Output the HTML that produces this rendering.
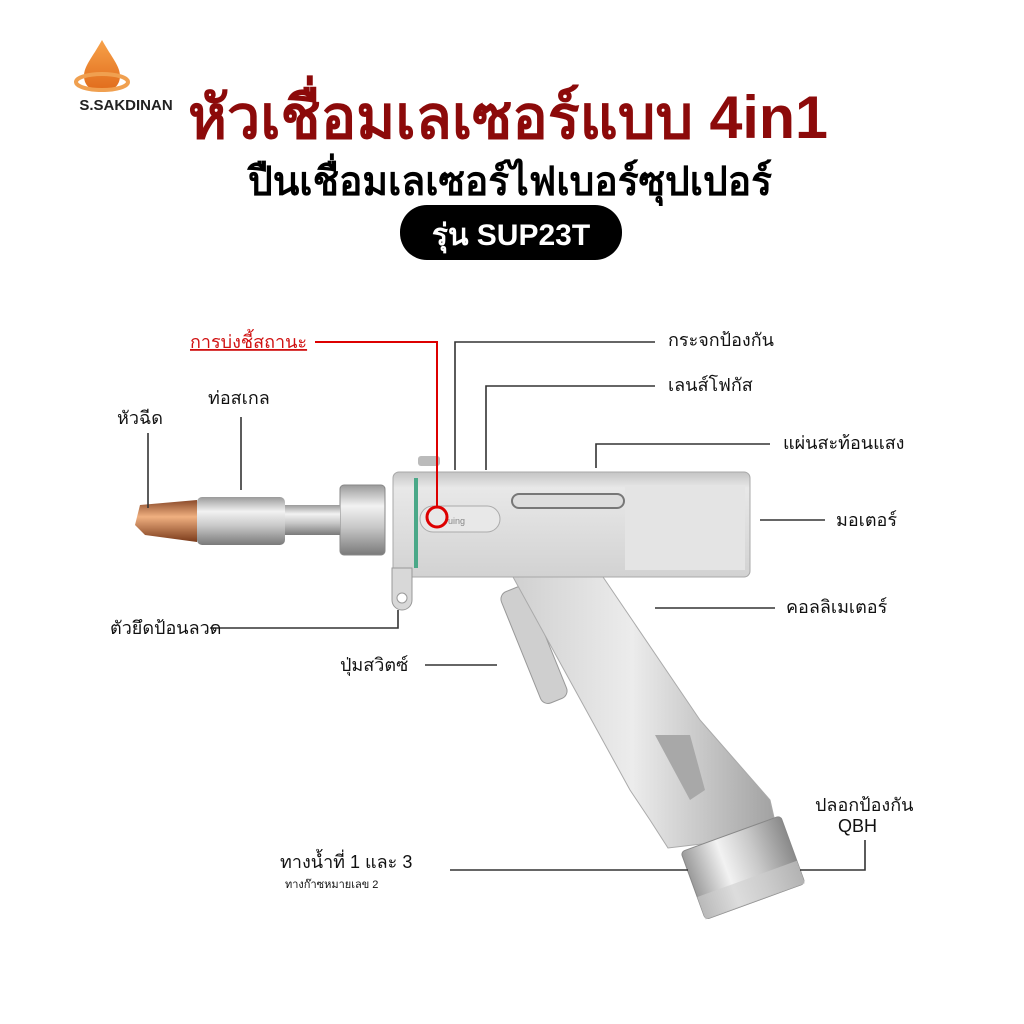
<!DOCTYPE html>
<html><head><meta charset="utf-8"><style>
body{margin:0;background:#fff}
svg{display:block}
text{font-family:"Liberation Sans","Noto Sans CJK SC",sans-serif}
</style></head><body>
<svg width="1024" height="1024" viewBox="0 0 1024 1024" xmlns="http://www.w3.org/2000/svg">
<defs>
<linearGradient id="mv" x1="0" y1="0" x2="0" y2="1"><stop offset="0" stop-color="#9a9a9a"/><stop offset=".3" stop-color="#f2f2f2"/><stop offset=".6" stop-color="#c8c8c8"/><stop offset="1" stop-color="#7a7a7a"/></linearGradient>
<linearGradient id="mh" x1="0" y1="0" x2="1" y2="0"><stop offset="0" stop-color="#9a9a9a"/><stop offset=".35" stop-color="#f2f2f2"/><stop offset=".65" stop-color="#c8c8c8"/><stop offset="1" stop-color="#8a8a8a"/></linearGradient>
<linearGradient id="cu" x1="0" y1="0" x2="0" y2="1"><stop offset="0" stop-color="#8a4a2a"/><stop offset=".4" stop-color="#f0b080"/><stop offset="1" stop-color="#7a3a1a"/></linearGradient>
<linearGradient id="bd" x1="0" y1="0" x2="0" y2="1"><stop offset="0" stop-color="#c4c4c4"/><stop offset=".15" stop-color="#e8e8e8"/><stop offset="1" stop-color="#d2d2d2"/></linearGradient>
<linearGradient id="gp" x1="0" y1="0" x2="1" y2="0"><stop offset="0" stop-color="#d0d0d0"/><stop offset=".45" stop-color="#ececec"/><stop offset="1" stop-color="#a0a0a0"/></linearGradient>
<linearGradient id="org" x1="0" y1="0" x2="0" y2="1"><stop offset="0" stop-color="#f7a24a"/><stop offset="1" stop-color="#e06a1a"/></linearGradient>
</defs>
<!-- logo -->
<path d="M102 40 C92 58 84 66 84 76 C84 86 92 92 102 92 C112 92 120 86 120 76 C120 66 112 58 102 40Z" fill="url(#org)"/>
<ellipse cx="102" cy="82" rx="26" ry="8" fill="none" stroke="#f0a050" stroke-width="4"/>
<text x="126" y="110" font-size="15" font-weight="bold" text-anchor="middle" fill="#222">S.SAKDINAN</text>
<!-- titles -->
<text x="508" y="138" font-size="60" font-weight="bold" text-anchor="middle" fill="#8c0a0a" textLength="640" lengthAdjust="spacingAndGlyphs">หัวเชื่อมเลเซอร์แบบ 4in1</text>
<text x="510" y="195" font-size="40" font-weight="bold" text-anchor="middle" fill="#000" textLength="524" lengthAdjust="spacingAndGlyphs">ปืนเชื่อมเลเซอร์ไฟเบอร์ซุปเปอร์</text>
<rect x="400" y="205" width="222" height="55" rx="27" fill="#000"/>
<text x="511" y="245" font-size="30" font-weight="bold" text-anchor="middle" fill="#fff">รุ่น SUP23T</text>
<!-- gun -->
<rect x="520" y="585" width="28" height="120" rx="8" fill="#cfcfcf" stroke="#999" transform="rotate(-22 534 645)"/>
<polygon points="513,577 603,577 700,720 770,800 778,835 668,848 650,820 630,790" fill="url(#gp)" stroke="#aaa"/>
<path d="M655 735 L690 735 L705 790 L690 800 Z" fill="#a8a8a8"/>
<g transform="rotate(-20 742 868)">
<rect x="690" y="832" width="106" height="72" rx="4" fill="url(#mh)" stroke="#888"/>
<rect x="690" y="880" width="106" height="24" fill="#cfcfcf" opacity=".6"/>
</g>
<rect x="393" y="472" width="357" height="105" rx="6" fill="url(#bd)" stroke="#a8a8a8"/>
<rect x="625" y="485" width="120" height="85" fill="#e4e4e4"/>
<rect x="512" y="494" width="112" height="14" rx="7" fill="#ddd" stroke="#777" stroke-width="2"/>
<rect x="420" y="506" width="80" height="26" rx="13" fill="#e8e8e8" stroke="#aaa"/>
<text x="445" y="524" font-size="9" fill="#888">ruing</text>
<line x1="416" y1="478" x2="416" y2="568" stroke="#4aa888" stroke-width="4"/>
<rect x="418" y="456" width="22" height="10" rx="3" fill="#bbb"/>
<path d="M392 568 L412 568 L412 600 A10 10 0 0 1 392 600Z" fill="#d8d8d8" stroke="#999"/>
<circle cx="402" cy="598" r="5" fill="#fff" stroke="#999"/>
<rect x="340" y="485" width="45" height="70" rx="4" fill="url(#mv)" stroke="#888"/>
<rect x="285" y="505" width="55" height="30" fill="url(#mv)"/>
<rect x="197" y="497" width="88" height="48" rx="5" fill="url(#mv)"/>
<polygon points="197,500 197,542 145,535 135,525 140,505" fill="url(#cu)"/>
<circle cx="437" cy="517" r="10" fill="none" stroke="#d00" stroke-width="3"/>
<!-- lines -->
<g stroke="#333" stroke-width="1.6" fill="none">
<polyline points="148,433 148,508"/>
<polyline points="241,417 241,490"/>
<polyline points="655,342 455,342 455,470"/>
<polyline points="655,386 486,386 486,470"/>
<polyline points="770,444 596,444 596,468"/>
<polyline points="760,520 825,520"/>
<polyline points="655,608 775,608"/>
<polyline points="425,665 497,665"/>
<polyline points="210,628 398,628 398,610"/>
<polyline points="450,870 688,870"/>
<polyline points="865,840 865,870 800,870"/>
</g>
<polyline points="315,342 437,342 437,508" stroke="#d00" stroke-width="2" fill="none"/>
<!-- labels -->
<g font-size="18" fill="#111">
<text x="117" y="424">หัวฉีด</text>
<text x="208" y="404">ท่อสเกล</text>
<text x="668" y="346">กระจกป้องกัน</text>
<text x="668" y="391">เลนส์โฟกัส</text>
<text x="783" y="449">แผ่นสะท้อนแสง</text>
<text x="836" y="526">มอเตอร์</text>
<text x="786" y="613">คอลลิเมเตอร์</text>
<text x="340" y="671">ปุ่มสวิตซ์</text>
<text x="110" y="634">ตัวยึดป้อนลวด</text>
<text x="280" y="868">ทางน้ำที่ 1 และ 3</text>
<text x="815" y="811">ปลอกป้องกัน</text>
<text x="838" y="832">QBH</text>
</g>
<text x="285" y="888" font-size="11" fill="#111">ทางก๊าซหมายเลข 2</text>
<text x="190" y="348" font-size="18" fill="#d01010" text-decoration="underline">การบ่งชี้สถานะ</text>
</svg>
</body></html>
